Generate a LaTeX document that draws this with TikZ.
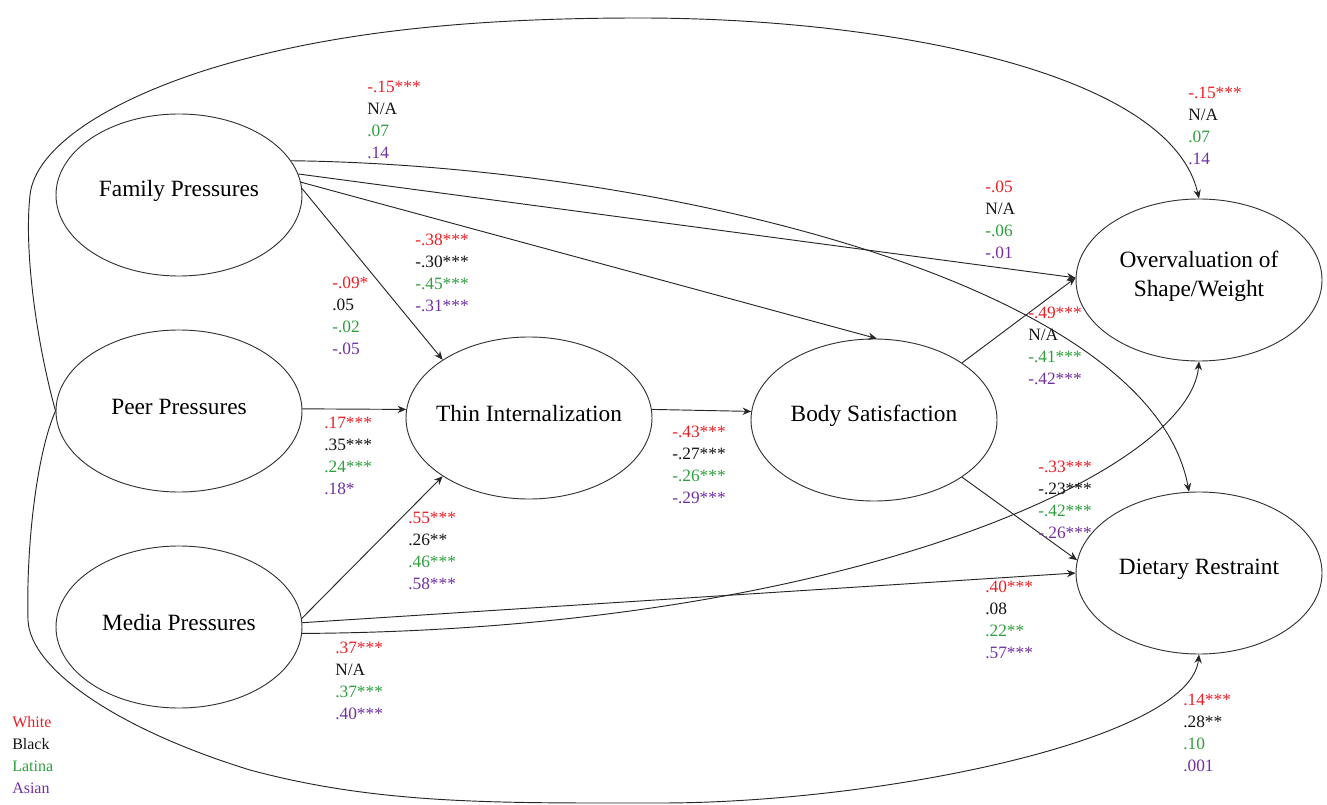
\documentclass[tikz,border=0pt]{standalone}
\usepackage{fontspec}
\setmainfont{Liberation Serif}
\usetikzlibrary{shapes.geometric, arrows.meta}
\definecolor{cwhite}{RGB}{232,32,38}
\definecolor{cblack}{RGB}{20,20,20}
\definecolor{clatina}{RGB}{46,158,62}
\definecolor{casian}{RGB}{112,48,160}
\tikzstyle{latent} = [ellipse, draw=black!80, line width=0.7pt, minimum width=184.5pt, minimum height=121.5pt, inner sep=0pt]
\tikzstyle{effect} = [line width=0.7pt, draw=black!85, -{Stealth[length=6.5pt,width=5.5pt]}]
\tikzstyle{coef} = [anchor=north west, inner sep=0pt, align=left, font=\fontsize{13}{16.5}\selectfont]
\tikzstyle{legend} = [anchor=north west, inner sep=0pt, align=left, font=\fontsize{12}{16.5}\selectfont]
\newcommand{\coefs}[4]{\textcolor{cwhite}{#1}\\\textcolor{cblack}{#2}\\\textcolor{clatina}{#3}\\\textcolor{casian}{#4}}

\begin{document}
\begin{tikzpicture}[x=0.75pt, y=-0.75pt, every label/.style={font=\fontsize{17.5}{22}\selectfont, align=center, inner sep=0pt, yshift=3pt}]
\useasboundingbox (0,0) rectangle (1327,805);

% Constructs
\node (fam) [latent, label=center:Family Pressures] at (179,195) {};
\node (peer) [latent, label=center:Peer Pressures] at (179,411) {};
\node (media) [latent, label=center:Media Pressures] at (179,627) {};
\node (thin) [latent, label=center:Thin Internalization] at (529,418) {};
\node (body) [latent, label=center:Body Satisfaction] at (874,420) {};
\node (over) [latent, label={center:Overvaluation of\\Shape/Weight}] at (1199,280) {};
\node (diet) [latent, label=center:Dietary Restraint] at (1199,573) {};

% Paths
\draw [effect] (fam.3) -- (thin.146);
\draw [effect] (fam.6) -- (body.88);
\draw [effect] (fam.10) -- (over.179);
\draw [effect] (fam.17) .. controls (650,165) and (1150,280) .. (diet.97);
\draw [effect] (peer.1) -- (thin.176);
\draw [effect] (media.4) -- (thin.214);
\draw [effect] (media.2) -- (diet.180);
\draw [effect] (media.-3) .. controls (850,630) and (1190,470) .. (over.south);
\draw [effect] (thin.4) -- (body.176);
\draw [effect] (body.33) -- (over.179);
\draw [effect] (body.-33) -- (diet.174);

% Long paths from peer pressures
\draw [effect] (peer.west) .. controls (36,340) and (24,250) .. (30,195)
  .. controls (35,150) and (100,105) .. (200,72)
  .. controls (330,30) and (480,18) .. (640,18)
  .. controls (880,18) and (1170,70) .. (over.north);
\draw [effect] (peer.west) .. controls (38,450) and (26,540) .. (28,620)
  .. controls (30,670) and (120,730) .. (250,770)
  .. controls (380,805) and (500,803) .. (660,803)
  .. controls (880,803) and (1190,740) .. (diet.south);

% Coefficients
\node (cfd) [coef] at (367,81) {\coefs{-.15***}{N/A}{.07}{.14}};
\node (cpo) [coef] at (1188,87) {\coefs{-.15***}{N/A}{.07}{.14}};
\node (cfo) [coef] at (985,181) {\coefs{-.05}{N/A}{-.06}{-.01}};
\node (cfb) [coef] at (415,234) {\coefs{-.38***}{-.30***}{-.45***}{-.31***}};
\node (cft) [coef] at (332,277) {\coefs{-.09*}{.05}{-.02}{-.05}};
\node (cpt) [coef] at (324,417) {\coefs{.17***}{.35***}{.24***}{.18*}};
\node (ctb) [coef] at (672,426) {\coefs{-.43***}{-.27***}{-.26***}{-.29***}};
\node (cbo) [coef] at (1028,307) {\coefs{-.49***}{N/A}{-.41***}{-.42***}};
\node (cbd) [coef] at (1038,461) {\coefs{-.33***}{-.23***}{-.42***}{-.26***}};
\node (cmd) [coef] at (985,581) {\coefs{.40***}{.08}{.22**}{.57***}};
\node (cmt) [coef] at (408,512) {\coefs{.55***}{.26**}{.46***}{.58***}};
\node (cmo) [coef] at (335,642) {\coefs{.37***}{N/A}{.37***}{.40***}};
\node (cpd) [coef] at (1183,694) {\coefs{.14***}{.28**}{.10}{.001}};

% Legend
\node (key) [legend] at (12,716) {\coefs{White}{Black}{Latina}{Asian}};

\end{tikzpicture}
\end{document}
